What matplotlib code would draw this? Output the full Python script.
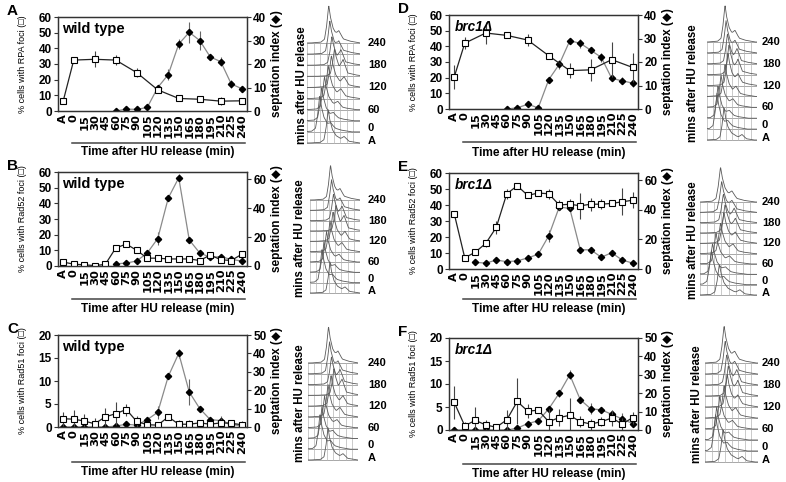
import numpy as np
import matplotlib
matplotlib.use('Agg')
import matplotlib.pyplot as plt
from matplotlib.transforms import blended_transform_factory

plt.rcParams['font.family'] = ['Liberation Sans', 'DejaVu Sans']
nan = np.nan

times = ['A', '0', '15', '30', '45', '60', '75', '90', '105', '120', '135',
         '150', '165', '180', '195', '210', '225', '240']

# ---- Panel A: RPA foci, wild type ----
a_foci = [6.5, 32.5, nan, 33, nan, 32.5, nan, 24.5, nan, 13.5, nan, 8, nan, 7.5, nan, 6.3, nan, 6.5]
a_foci_err = [1, 1, nan, 5, nan, 3, nan, 3, nan, 1.5, nan, 1, nan, 2, nan, 2.5, nan, 1.5]
a_sept = [nan, nan, nan, nan, nan, 0, 0.8, 0.7, 1.5, 10, 15.5, 28.5, 33.5, 30, 23, 21, 11.5, 9.5]
a_sept_err = [nan, nan, nan, nan, nan, 0, 0, 0, 0, 0.8, 2.5, 2, 4.5, 4, 0.8, 2, 1.5, 1]

# ---- Panel B: Rad52 foci, wild type ----
b_foci = [2.5, 1.2, 0.7, 0.3, 1, 11.5, 14, 10, 5, 5, 4.5, 4.5, 4.5, 3.5, 7, 4, 3.5, 7.5]
b_foci_err = [0.8, 0.5, 0.5, 0.5, 0.5, 2, 1.5, 0.8, 0.5, 0.5, 0.5, 0.5, 1.5, 0.5, 1, 0.8, 0.8, 1.5]
b_sept = [nan, nan, nan, nan, nan, 1.5, 2, 3.5, 9, 19, 47, 61, 18, 9, 6, 6.5, 4.5, 3.5]
b_sept_err = [nan, nan, nan, nan, nan, 0, 0, 0, 0, 4.5, 0.5, 2.5, 0.5, 0.5, 0.5, 0.5, 0.5, 0.5]

# ---- Panel C: Rad51 foci, wild type ----
c_foci = [1.8, 1.7, 1.3, 0.7, 2.2, 2.9, 3.8, 1.2, 0.5, 0.4, 2.2, 0.6, 0.6, 0.9, 0.6, 0.9, 0.8, 0.5]
c_foci_err = [1.5, 2, 1.5, 1.2, 2, 2.5, 1.3, 1.3, 0.3, 0.3, 0.3, 1, 1, 0.6, 0.6, 1, 0.5, 0.8]
c_sept = [0, 0, 0, 0, 0, 0.5, 1.5, 1, 4, 8, 27.5, 40, 19, 10, 4, 3.5, 1.5, 0.5]
c_sept_err = [0, 0, 0, 0, 0, 0, 1.5, 1.5, 1, 3.5, 1, 2.5, 7, 1.5, 1.5, 2.5, 1, 0.5]

# ---- Panel D: RPA foci, brc1 delta ----
d_foci = [20.5, 42, nan, 48.5, nan, 47, nan, 44, nan, 34, nan, 24.5, nan, 25, nan, 31.5, nan, 26.5]
d_foci_err = [7.5, 4, nan, 7, nan, 1, nan, 4, nan, 2, nan, 5, nan, 7, nan, 11, nan, 9]
d_sept = [nan, nan, nan, nan, nan, 0, 0.5, 2, 0.5, 12.5, 19, 29, 28, 25, 22, 13, 12, 11]
d_sept_err = [nan, nan, nan, nan, nan, 0, 0, 0, 0, 0, 2, 0, 2, 0, 2, 0, 1.5, 1.5]

# ---- Panel E: Rad52 foci, brc1 delta ----
e_foci = [34.5, 7, 10.5, 16, 26, 47, 52, 46, 47.5, 47, 40, 40.5, 39.5, 40.5, 40.5, 41, 42, 43]
e_foci_err = [0, 0.5, 0.5, 2, 4, 3, 1, 0.5, 0.5, 3, 3, 3, 8, 4, 3, 0.5, 8.5, 5]
e_sept = [nan, nan, 4.5, 4, 6, 5, 5.5, 7.5, 10, 22.5, 42, 41, 13, 13, 8, 11, 6, 4]
e_sept_err = [nan, nan, 0.5, 0.5, 0.5, 0.5, 2, 2, 0.5, 4, 0.5, 0.5, 0.5, 2, 0.5, 0.5, 0.5, 0.5]

# ---- Panel F: Rad51 foci, brc1 delta ----
f_foci = [6, 0.9, 2.1, 1.1, 0.6, 2.2, 6.2, 4.1, 4.3, 1.8, 2.7, 3.2, 1.8, 1.3, 1.8, 2.6, 1.3, 2.7]
f_foci_err = [3.5, 0.8, 3, 1, 0.8, 2.2, 5, 1.5, 0.3, 2.7, 1.8, 3.8, 1.2, 1.2, 1, 1.8, 1.3, 1.3]
f_sept = [0, 0, 0, 0, 0, 0, 1, 3.5, 5, 11.5, 20, 30, 16.5, 11.5, 11, 8.5, 6, 3.5]
f_sept_err = [0, 0, 0, 0, 0, 0, 0, 0, 0, 1.5, 2, 2.5, 2, 3, 1, 2, 3.5, 1.5]

# ---- Flow cytometry profiles (peak position as fraction of DNA axis, height in row units) ----
hist_times = ['A', '0', '30', '60', '90', '120', '150', '180', '210', '240']
hist_labels = ['240', '180', '120', '60', '0', 'A']
wt_peak_pos = [0.40, 0.24, 0.28, 0.33, 0.40, 0.46, 0.52, 0.47, 0.43, 0.41]
wt_peak_h = [3.0, 3.3, 3.0, 3.0, 3.0, 2.9, 2.5, 2.6, 3.0, 3.4]
wt_sh_pos = [0.70, 0.45, 0.50, 0.58, 0.64, 0.70, 0.68, 0.64, 0.60, 0.60]
wt_sh_h = [0.3, 0.3, 0.3, 0.4, 0.5, 0.6, 1.0, 0.9, 0.6, 0.5]
br_peak_pos = [0.34, 0.20, 0.22, 0.28, 0.36, 0.42, 0.44, 0.41, 0.38, 0.36]
br_peak_h = [3.0, 3.3, 3.0, 3.0, 3.0, 3.0, 2.8, 2.8, 3.0, 3.4]
br_sh_pos = [0.70, 0.42, 0.45, 0.52, 0.58, 0.62, 0.62, 0.60, 0.56, 0.56]
br_sh_h = [0.3, 0.3, 0.3, 0.4, 0.5, 0.6, 0.9, 0.9, 0.6, 0.5]
# generic FACS peak profile (offsets from peak, relative heights)
shape_dx = [-0.35, -0.15, -0.08, -0.04, 0.0, 0.03, 0.08, 0.15, 0.25, 0.40, 0.60]
shape_fy = [0, 0.02, 0.10, 0.45, 1.0, 0.70, 0.40, 0.22, 0.12, 0.05, 0]
bump_dx = [-0.07, 0.0, 0.09]
bump_fy = [0, 1, 0]

W, H = 786, 482
fig = plt.figure(figsize=(W / 100, H / 100), dpi=100)


def add_ax(l, t, r, b):
    return fig.add_axes([l / W, 1 - b / H, (r - l) / W, (b - t) / H])


SPINE = '#333333'


def main_panel(box, letter, foci, foci_err, sept, sept_err, ylim1, yt1, ylim2, yt2,
               foci_name, geno, line_y, text_y):
    l, t, r, b = box
    ax = add_ax(l, t, r, b)
    ax2 = ax.twinx()
    ax.set_zorder(ax2.get_zorder() + 1)
    ax.patch.set_visible(False)
    x = np.arange(len(times))
    fo = np.array(foci, float)
    fe = np.array(foci_err, float)
    se = np.array(sept, float)
    see = np.array(sept_err, float)
    ms = ~np.isnan(se)
    ax2.errorbar(x[ms], se[ms], yerr=see[ms], fmt='none', ecolor='#666666', elinewidth=0.8, capsize=0)
    ax2.plot(x[ms], se[ms], '-', color='#8a8a8a', lw=0.9)
    ax2.plot(x[ms], se[ms], 'D', color='black', ms=3.2, mec='black')
    mf = ~np.isnan(fo)
    ax.errorbar(x[mf], fo[mf], yerr=fe[mf], fmt='none', ecolor='#444444', elinewidth=0.8, capsize=0)
    ax.plot(x[mf], fo[mf], '-', color='#222222', lw=0.9)
    ax.plot(x[mf], fo[mf], 's', mfc='white', mec='black', ms=4.5, mew=0.8)
    ax.set_xlim(-0.5, 17.5)
    ax.set_ylim(*ylim1)
    ax2.set_ylim(*ylim2)
    ax.set_yticks(yt1)
    ax2.set_yticks(yt2)
    ax.set_xticks(x)
    ax.set_xticklabels(times, rotation=90, fontsize=8.2, fontweight='bold',
                       family=['DejaVu Sans'])
    ax.tick_params(axis='x', length=0, pad=2)
    ax.tick_params(axis='y', length=3, width=0.8, pad=1.5, labelsize=8.5, color=SPINE)
    ax2.tick_params(axis='y', length=3, width=0.8, pad=1.5, labelsize=8.5, color=SPINE)
    for lab in ax.get_yticklabels() + ax2.get_yticklabels():
        lab.set_fontweight('bold')
    for sp in ax.spines.values():
        sp.set_color(SPINE)
        sp.set_linewidth(0.9)
    for sp in ax2.spines.values():
        sp.set_color(SPINE)
        sp.set_linewidth(0.9)
    ax.set_ylabel(f'% cells with {foci_name} foci (\u25a1)', fontsize=6.5)
    ax.yaxis.set_label_coords(-0.165, 0.5)
    ax2.set_ylabel('septation index (\u25c6)', fontsize=8.5, fontweight='bold', rotation=90)
    ax2.yaxis.set_label_coords(1.125, 0.5)
    if geno == 'wt':
        ax.text(0.02, 0.95, 'wild type', transform=ax.transAxes, va='top', ha='left',
                fontsize=10.5, fontweight='bold')
    else:
        ax.text(0.03, 0.95, 'brc1\u0394', transform=ax.transAxes, va='top', ha='left',
                fontsize=9.8, fontweight='bold', style='italic')
    fig.text((l - 51) / W, 1 - (t - 6) / H, letter, fontsize=11, fontweight='bold',
             ha='left', va='center')
    # underline bar and time label
    trans = blended_transform_factory(ax.transData, fig.transFigure)
    ax.plot([0.8, 17.3], [1 - line_y / H] * 2, transform=trans, color='#444444', lw=1.1,
            clip_on=False)
    xm = (l + 10 + r) / 2
    fig.text(xm / W, 1 - text_y / H, 'Time after HU release (min)', fontsize=8.6,
             fontweight='bold', ha='center', va='center')
    return ax


def facs_panel(gx0, gx1, ybot, ytop, lab_x, txt_x, pos, hts, shp, shh):
    unit = (ybot - ytop) / 9.0
    y_lo, y_hi = -0.3, 12.8
    b = ybot + (0 - y_lo) * unit
    t = ytop - (y_hi - 9) * unit
    ax = add_ax(gx0, t, gx1, b)
    ax.set_xlim(0, 1)
    ax.set_ylim(y_lo, y_hi)
    ax.axis('off')
    for k in range(len(hist_times)):
        ax.plot([0, 1], [k, k], color='#9a9a9a', lw=0.6)
    for gx in np.linspace(0, 1, 9):
        ax.plot([gx, gx], [0, 9], color='#b5b5b5', lw=0.5)
    xs = np.linspace(0, 1, 161)
    for k in range(len(hist_times)):
        y = hts[k] * np.interp(xs, np.array(shape_dx) + pos[k], shape_fy, left=0, right=0)
        y = y + shh[k] * np.interp(xs, np.array(bump_dx) + shp[k], bump_fy, left=0, right=0)
        ax.plot(xs, k + y, color='#5a5a5a', lw=0.6)
    lab_rows = [9, 7, 5, 3, 1.35, 0.2]
    for lab, row in zip(hist_labels, lab_rows):
        yy = ybot - row * unit
        fig.text(lab_x / W, 1 - yy / H, lab, fontsize=8, fontweight='bold', ha='left', va='center')
    fig.text(txt_x / W, 1 - ((ybot + ytop) / 2 - 8) / H, 'mins after HU release', rotation=90,
             fontsize=8.3, fontweight='bold', ha='center', va='center')


main_panel((58, 17, 247, 111), 'A', a_foci, a_foci_err, a_sept, a_sept_err,
           (0, 60), range(0, 61, 10), (0, 40), range(0, 41, 10), 'RPA', 'wt', 143, 152)
main_panel((58, 172, 247, 266), 'B', b_foci, b_foci_err, b_sept, b_sept_err,
           (0, 60), range(0, 61, 10), (0, 65), range(0, 61, 20), 'Rad52', 'wt', 299, 309)
main_panel((58, 335, 247, 427), 'C', c_foci, c_foci_err, c_sept, c_sept_err,
           (0, 20), range(0, 21, 5), (0, 50), range(0, 51, 10), 'Rad51', 'wt', 462, 472)
main_panel((449, 15, 638, 109), 'D', d_foci, d_foci_err, d_sept, d_sept_err,
           (0, 60), range(0, 61, 10), (0, 40), range(0, 41, 10), 'RPA', 'br', 142, 153)
main_panel((449, 173, 638, 269), 'E', e_foci, e_foci_err, e_sept, e_sept_err,
           (0, 60), range(0, 61, 10), (0, 65), range(0, 61, 20), 'Rad52', 'br', 299, 309)
main_panel((449, 338, 638, 430), 'F', f_foci, f_foci_err, f_sept, f_sept_err,
           (0, 20), range(0, 21, 5), (0, 50), range(0, 51, 10), 'Rad51', 'br', 464, 474)

facs_panel(307, 360, 143, 43, 368, 302, wt_peak_pos, wt_peak_h, wt_sh_pos, wt_sh_h)
facs_panel(310, 360, 293, 200, 368, 300, wt_peak_pos, wt_peak_h, wt_sh_pos, wt_sh_h)
facs_panel(308, 358, 460, 363, 368, 300, wt_peak_pos, wt_peak_h, wt_sh_pos, wt_sh_h)
facs_panel(707, 757, 140, 42, 762, 693, br_peak_pos, br_peak_h, br_sh_pos, br_sh_h)
facs_panel(700, 757, 295, 202, 762, 693, br_peak_pos, br_peak_h, br_sh_pos, br_sh_h)
facs_panel(705, 758, 462, 363, 762, 697, br_peak_pos, br_peak_h, br_sh_pos, br_sh_h)

fig.savefig('out.png', dpi=100)
